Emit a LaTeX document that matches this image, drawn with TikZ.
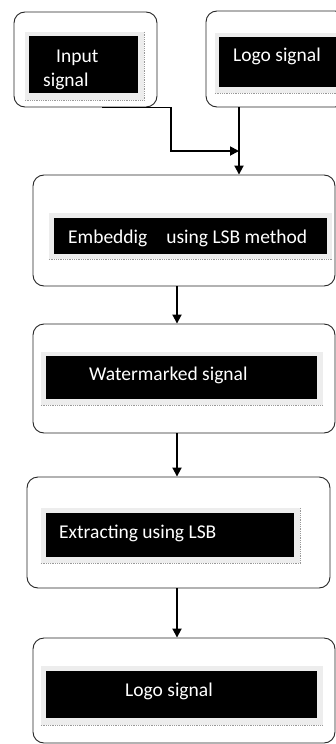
\documentclass[tikz,border=0pt]{standalone}
\usepackage{fontspec}
\setmainfont{Carlito}
\usetikzlibrary{arrows.meta,calc}
\tikzset{
  outerbox/.style={draw=black!85, line width=0.9pt, rounded corners=11pt, fill=white, inner sep=0pt},
  framebox/.style={fill=black!7, draw=none, inner sep=0pt},
  blackbox/.style={fill=black, draw=none, inner sep=0pt},
  dotline/.style={draw=black!40, line width=0.8pt, densely dotted},
  lbl/.style={text=white, font=\fontsize{19.5}{22}\selectfont, inner sep=0pt, anchor=base west},
  arr/.style={line width=1.8pt, -{Triangle[length=9pt,width=9pt]}},
}
\begin{document}
\begin{tikzpicture}[x=1pt,y=-1pt]
\useasboundingbox (0,0) rectangle (336,744);
\clip (0,0) rectangle (336,744);
\fill[white] (0,0) rectangle (336,744);

% outer boxes
\node[outerbox, minimum width=143pt, minimum height=95pt] (in) at (85.5,59.5) {};
\node[outerbox, minimum width=140pt, minimum height=96pt] (logoA) at (276,59) {};
\node[outerbox, minimum width=302pt, minimum height=111pt] (embed) at (184,230.5) {};
\node[outerbox, minimum width=302pt, minimum height=109pt] (water) at (184,378.5) {};
\node[outerbox, minimum width=303pt, minimum height=111pt] (extract) at (178.5,532.5) {};
\node[outerbox, minimum width=302pt, minimum height=105pt] (logoB) at (184,690.5) {};

% grey frames
\node[framebox, minimum width=119pt, minimum height=68pt] (fin) at (84.5,66) {};
\node[framebox, minimum width=131pt, minimum height=60pt] (flogoA) at (280.5,63) {};
\node[framebox, minimum width=283pt, minimum height=46pt] (fembed) at (190.5,236) {};
\node[framebox, minimum width=282pt, minimum height=53pt] (fwater) at (182,378.5) {};
\node[framebox, minimum width=259pt, minimum height=55pt] (fextract) at (170.5,535.5) {};
\node[framebox, minimum width=282pt, minimum height=59pt] (flogoB) at (182,695.5) {};
\foreach \f in {fin,flogoA,fembed,fwater,fextract,flogoB}
  \draw[dotline] (\f.south west) -- (\f.south east);
\draw[dotline] (fin.north east) -- (fin.south east);
\draw[dotline] (fextract.north east) -- (fextract.south east);

% black boxes
\node[blackbox, minimum width=109pt, minimum height=57pt] (bin) at (83.5,64.5) {};
\node[blackbox, minimum width=127pt, minimum height=50pt] (blogoA) at (282.5,62) {};
\node[blackbox, minimum width=273pt, minimum height=36pt] (bembed) at (190.5,236) {};
\node[blackbox, minimum width=271pt, minimum height=43pt] (bwater) at (181.5,377.5) {};
\node[blackbox, minimum width=248pt, minimum height=44pt] (bextract) at (170,535) {};
\node[blackbox, minimum width=271pt, minimum height=47pt] (blogoB) at (181.5,694.5) {};

% labels
\begin{scope}
\clip (bin.south west) rectangle (bin.north east);
\node[lbl] (t1a) at (56,62) {Input};
\node[lbl] (t1b) at (43,86) {signal};
\end{scope}
\node[lbl] (t2) at (233,61) {Logo signal};
\node[lbl] (t3) at (68,243) {Embeddig\hspace{19pt}using LSB method};
\node[lbl] (t4) at (89,380.5) {Watermarked signal};
\node[lbl] (t5) at (59,538.5) {Extracting using LSB};
\node[lbl] (t6) at (125,696) {Logo signal};

% connectors
\coordinate (bend) at (171,151);
\coordinate (join) at (239,151);
\coordinate (ax) at (177,0);
\draw[arr] ([xshift=16.5pt]in.south) -| (bend) -- (join);
\draw[arr] ([xshift=-37pt]logoA.south) -- (embed.north -| join);
\draw[arr] (embed.south -| ax) -- (water.north -| ax);
\draw[arr] (water.south -| ax) -- (extract.north -| ax);
\draw[arr] (extract.south -| ax) -- (logoB.north -| ax);
\end{tikzpicture}
\end{document}
